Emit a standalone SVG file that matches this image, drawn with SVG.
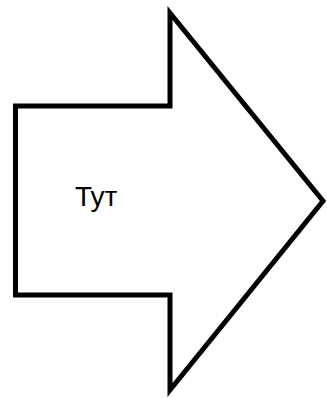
<svg xmlns="http://www.w3.org/2000/svg" width="327" height="398" viewBox="0 0 327 398">
<style>
.shape{fill:#fff;stroke:#000;stroke-width:5;stroke-linejoin:miter}
.lbl{font-family:"Liberation Sans",Arial,sans-serif;font-size:28px;fill:#000}
</style>
<rect width="327" height="398" fill="#fff"/>
<g id="arrow">
<polygon class="shape" points="15.5,106 170,106 170,13 323,201 170,390 170,295 15.5,295"/>
<text class="lbl" x="75" y="206">Тут</text>
</g>
</svg>
